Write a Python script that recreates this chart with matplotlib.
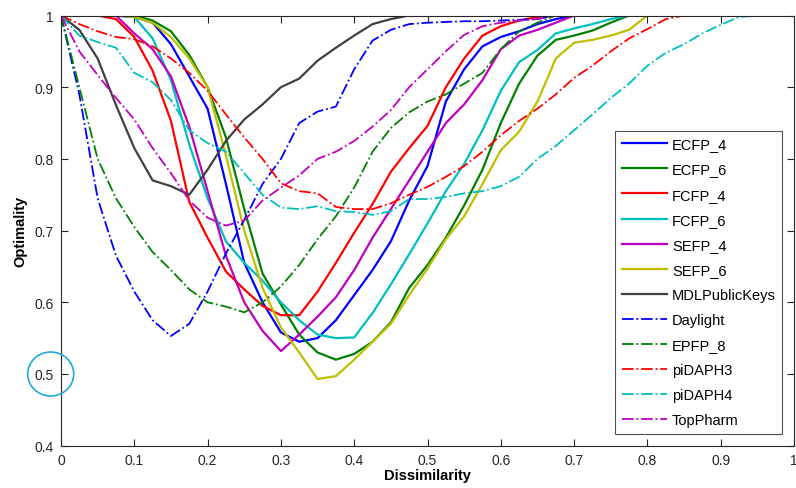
import matplotlib
matplotlib.use("Agg")
import matplotlib.pyplot as plt
from matplotlib.patches import Ellipse
import numpy as np

plt.rcParams['font.family'] = ['Liberation Sans', 'DejaVu Sans']

x = [round(0.025 * i, 3) for i in range(41)]

ecfp4 = [1, 1, 1, 1, 0.998, 0.99, 0.96, 0.915, 0.87, 0.765, 0.655, 0.6, 0.558, 0.545, 0.55, 0.575,
         0.61, 0.645, 0.685, 0.742, 0.79, 0.88, 0.925, 0.957, 0.97, 0.978, 0.988, 0.995, 1, 1,
         1, 1, 1, 1, 1, 1, 1, 1, 1, 1, 1]
ecfp6 = [1, 1, 1, 1, 1, 0.993, 0.978, 0.945, 0.9, 0.83, 0.73, 0.64, 0.597, 0.555, 0.53, 0.52,
         0.528, 0.545, 0.572, 0.62, 0.652, 0.69, 0.735, 0.785, 0.85, 0.905, 0.944, 0.966, 0.972, 0.979,
         0.99, 1, 1, 1, 1, 1, 1, 1, 1, 1, 1]
fcfp4 = [1, 1, 1, 0.995, 0.97, 0.923, 0.853, 0.74, 0.69, 0.643, 0.618, 0.595, 0.582, 0.582, 0.615, 0.655,
         0.697, 0.737, 0.782, 0.815, 0.846, 0.9, 0.94, 0.972, 0.985, 0.993, 0.998, 1, 1, 1,
         1, 1, 1, 1, 1, 1, 1, 1, 1, 1, 1]
fcfp6 = [1, 1, 1, 1, 0.998, 0.968, 0.91, 0.82, 0.745, 0.685, 0.655, 0.63, 0.6, 0.575, 0.555, 0.55,
         0.551, 0.585, 0.625, 0.667, 0.71, 0.755, 0.793, 0.84, 0.895, 0.935, 0.952, 0.975, 0.982, 0.988,
         0.995, 1, 1, 1, 1, 1, 1, 1, 1, 1, 1]
sefp4 = [1, 1, 1, 1, 0.975, 0.953, 0.915, 0.845, 0.755, 0.665, 0.6, 0.56, 0.532, 0.555, 0.58, 0.607,
         0.645, 0.69, 0.73, 0.77, 0.81, 0.85, 0.876, 0.91, 0.953, 0.972, 0.98, 0.99, 1, 1,
         1, 1, 1, 1, 1, 1, 1, 1, 1, 1, 1]
sefp6 = [1, 1, 1, 1, 0.998, 0.99, 0.97, 0.94, 0.9, 0.805, 0.7, 0.62, 0.565, 0.53, 0.493, 0.497,
         0.52, 0.545, 0.57, 0.61, 0.647, 0.688, 0.72, 0.765, 0.812, 0.838, 0.88, 0.94, 0.962, 0.966,
         0.972, 0.98, 1, 1, 1, 1, 1, 1, 1, 1, 1]
mdl = [1, 0.98, 0.94, 0.875, 0.815, 0.77, 0.762, 0.75, 0.785, 0.825, 0.855, 0.876, 0.9, 0.912, 0.937, 0.955,
       0.972, 0.988, 0.995, 1, 1, 1, 1, 1, 1, 1, 1, 1, 1, 1,
       1, 1, 1, 1, 1, 1, 1, 1, 1, 1, 1]
daylight = [1, 0.89, 0.745, 0.665, 0.615, 0.575, 0.553, 0.57, 0.615, 0.668, 0.715, 0.765, 0.8, 0.85, 0.866, 0.873,
            0.925, 0.965, 0.98, 0.988, 0.99, 0.991, 0.992, 0.992, 0.993, 0.994, 0.995, 1, 1, 1,
            1, 1, 1, 1, 1, 1, 1, 1, 1, 1, 1]
epfp8 = [1, 0.9, 0.8, 0.745, 0.705, 0.67, 0.645, 0.618, 0.6, 0.594, 0.586, 0.6, 0.622, 0.652, 0.688, 0.72,
         0.76, 0.81, 0.843, 0.865, 0.88, 0.89, 0.905, 0.92, 0.953, 0.978, 0.99, 1, 1, 1,
         1, 1, 1, 1, 1, 1, 1, 1, 1, 1, 1]
pidaph3 = [1, 0.988, 0.978, 0.97, 0.967, 0.957, 0.94, 0.92, 0.895, 0.862, 0.83, 0.8, 0.766, 0.755, 0.752, 0.733,
           0.73, 0.73, 0.738, 0.75, 0.761, 0.775, 0.79, 0.81, 0.833, 0.853, 0.87, 0.89, 0.913, 0.93,
           0.95, 0.968, 0.981, 0.995, 1, 1, 1, 1, 1, 1, 1]
pidaph4 = [1, 0.972, 0.963, 0.955, 0.92, 0.907, 0.882, 0.84, 0.822, 0.81, 0.78, 0.75, 0.732, 0.73, 0.734, 0.727,
           0.726, 0.722, 0.727, 0.744, 0.744, 0.747, 0.752, 0.755, 0.762, 0.775, 0.8, 0.818, 0.84, 0.862,
           0.885, 0.905, 0.93, 0.948, 0.96, 0.975, 0.987, 0.998, 1, 1, 1]
toppharm = [1, 0.95, 0.917, 0.885, 0.855, 0.815, 0.78, 0.742, 0.718, 0.707, 0.714, 0.742, 0.76, 0.777, 0.8, 0.81,
            0.825, 0.845, 0.868, 0.9, 0.925, 0.95, 0.973, 0.985, 0.99, 0.993, 0.995, 1, 1, 1,
            1, 1, 1, 1, 1, 1, 1, 1, 1, 1, 1]

names = ["ECFP_4", "ECFP_6", "FCFP_4", "FCFP_6", "SEFP_4", "SEFP_6", "MDLPublicKeys",
         "Daylight", "EPFP_8", "piDAPH3", "piDAPH4", "TopPharm"]
series = [ecfp4, ecfp6, fcfp4, fcfp6, sefp4, sefp6, mdl,
          daylight, epfp8, pidaph3, pidaph4, toppharm]
colors = ["#0000ff", "#008000", "#ff0000", "#00bfbf", "#bf00bf", "#bfbf00", "#404040",
          "#0000ff", "#008000", "#ff0000", "#00bfbf", "#bf00bf"]
styles = ["-"] * 7 + ["-."] * 5

xticks = [0, 0.1, 0.2, 0.3, 0.4, 0.5, 0.6, 0.7, 0.8, 0.9, 1]
xticklabels = ["0", "0.1", "0.2", "0.3", "0.4", "0.5", "0.6", "0.7", "0.8", "0.9", "1"]
yticks = [0.4, 0.5, 0.6, 0.7, 0.8, 0.9, 1]
yticklabels = ["0.4", "0.5", "0.6", "0.7", "0.8", "0.9", "1"]

fig = plt.figure(figsize=(7.96, 4.89), dpi=100)
ax = fig.add_axes([61 / 796, 1 - 446.7 / 489, 733 / 796, 430.2 / 489])

for name, ys, c, ls in zip(names, series, colors, styles):
    lw = 1.6 if ls == "-" else 1.3
    ax.plot(x, ys, color=c, linestyle=ls, linewidth=lw, label=name)

ax.set_xlim(0, 1)
ax.set_ylim(0.4, 1)
ax.set_xticks(xticks)
ax.set_xticklabels(xticklabels)
ax.set_yticks(yticks)
ax.set_yticklabels(yticklabels)
ax.tick_params(direction="in", top=True, right=True, length=5, width=0.8,
               labelsize=10, colors="#262626", pad=5)
for s in ax.spines.values():
    s.set_color("#262626")
    s.set_linewidth(0.8)

ax.set_xlabel("Dissimilarity", fontsize=10.5, fontweight="bold", labelpad=1)
ax.set_ylabel("Optimality", fontsize=10.5, fontweight="bold", labelpad=5)

leg = ax.legend(loc="upper left", bbox_to_anchor=(0.756, 0.732), borderaxespad=0,
                fontsize=10.5, frameon=True, fancybox=False, edgecolor="#262626",
                handlelength=3.1, handletextpad=0.35, labelspacing=0.76,
                borderpad=0.45)
leg.get_frame().set_linewidth(0.8)

circ = Ellipse((50.7 / 796, 1 - 375 / 489), 46 / 796, 44 / 489, transform=fig.transFigure,
               fill=False, edgecolor="#1eaadc", linewidth=1.2)
fig.add_artist(circ)

fig.savefig("out.png", dpi=100)
